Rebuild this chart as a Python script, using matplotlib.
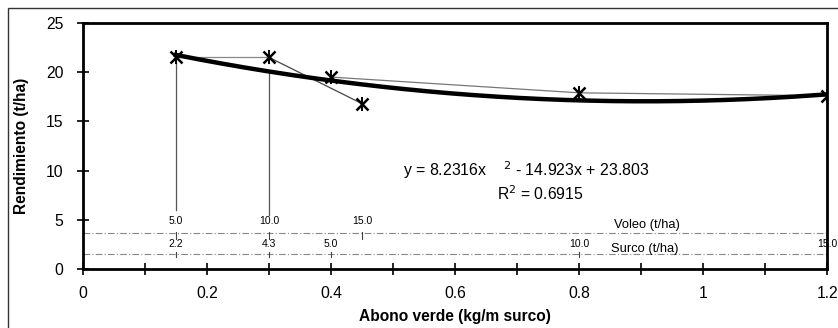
import numpy as np
import matplotlib
matplotlib.use("Agg")
import matplotlib.pyplot as plt
from matplotlib.patches import Rectangle

# data points
voleo_x = [0.15, 0.30, 0.45]
voleo_y = [21.5, 21.5, 16.8]
surco_x = [0.40, 0.80, 1.20]
surco_y = [19.5, 17.9, 17.6]

# fitted trend (from the equation shown on the chart)
coef = [8.2316, -14.923, 23.803]
r2 = 0.6915

# secondary scales drawn inside the plot
voleo_scale_x = [0.15, 0.30, 0.45]
voleo_scale_lab = ["5.0", "10.0", "15.0"]
surco_scale_x = [0.15, 0.30, 0.40, 0.80, 1.20]
surco_scale_lab = ["2.2", "4.3", "5.0", "10.0", "15.0"]
voleo_level = 3.7
surco_level = 1.5

plt.rcParams['font.family'] = ['Liberation Sans', 'DejaVu Sans']

fig = plt.figure(figsize=(8.38, 3.28), dpi=100)
ax = fig.add_axes([0.099, 0.180, 0.888, 0.750])

# outer frame of the figure (cut off at right and bottom)
fig.patches.append(Rectangle((8 / 838, -0.2), 1.2, 1.2 - 8 / 328,
                             transform=fig.transFigure, fill=False,
                             edgecolor='#333333', linewidth=1.0))

# vertical guide lines
ax.plot([0.15, 0.15], [6.0, 21.5], color='#555555', lw=0.9)
ax.plot([0.30, 0.30], [5.5, 20.0], color='#555555', lw=0.9)

# series
ax.plot([voleo_x[0], voleo_x[1]], [voleo_y[0], voleo_y[1]], color='#888888', lw=0.9)
ax.plot(voleo_x[1:], voleo_y[1:], color='#444444', lw=0.9)
ax.plot(surco_x, surco_y, color='#777777', lw=0.9)
pts_x = voleo_x + surco_x
pts_y = voleo_y + surco_y
ax.plot(pts_x, pts_y, linestyle='none', marker='x', markersize=8,
        markeredgewidth=1.8, color='black')
ax.plot(pts_x, pts_y, linestyle='none', marker='|', markersize=10,
        markeredgewidth=1.4, color='black')

# trend line
xs = np.linspace(0.15, 1.2, 200)
ax.plot(xs, np.polyval(coef, xs), color='black', lw=3.2)

# secondary scales
ax.axhline(voleo_level, color='#888888', lw=0.8, linestyle=(0, (6, 2, 1, 2)))
ax.axhline(surco_level, color='#888888', lw=0.8, linestyle=(0, (6, 2, 1, 2)))
for xv, lab in zip(voleo_scale_x, voleo_scale_lab):
    ax.plot([xv, xv], [voleo_level - 0.7, voleo_level + 0.1], color='#444444', lw=0.8)
    ax.text(xv, voleo_level + 0.7, lab, ha='center', va='bottom', fontsize=7.5)
for xv, lab in zip(surco_scale_x, surco_scale_lab):
    ax.plot([xv, xv], [surco_level - 0.25, surco_level + 0.25], color='#444444', lw=0.8)
    ax.text(xv, surco_level + 0.55, lab, ha='center', va='bottom', fontsize=7.5)
ax.text(0.909, voleo_level + 0.2, "Voleo (t/ha)", ha='center', va='bottom', fontsize=9.3)
ax.text(0.906, surco_level - 0.1, "Surco (t/ha)", ha='center', va='bottom', fontsize=9.3)

# equation text
ax.text(0.516, 10.0, "y = %.4fx    $^2$ - %.3fx + %.3f" % (coef[0], -coef[1], coef[2]),
        ha='left', va='center', fontsize=11.4)
ax.text(0.737, 7.7, "R$^2$ = %.4f" % r2, ha='center', va='center', fontsize=11.3)

ax.set_xlim(0, 1.2)
ax.set_ylim(0, 25)
ax.set_xticks(np.arange(0, 1.21, 0.2))
ax.set_xticklabels(["0", "0.2", "0.4", "0.6", "0.8", "1", "1.2"])
ax.set_xticks(np.arange(0.1, 1.2, 0.2), minor=True)
ax.set_yticks([0, 5, 10, 15, 20, 25])
ax.tick_params(axis='both', which='both', direction='inout', length=8, width=1.2,
               labelsize=11.3)
ax.tick_params(axis='x', pad=8)
ax.tick_params(axis='y', pad=10)
for s in ax.spines.values():
    s.set_linewidth(2)

ax.set_xlabel("Abono verde (kg/m surco)", fontsize=11.2, fontweight='bold', labelpad=6)
ax.set_ylabel("Rendimiento (t/ha)", fontsize=11.2, fontweight='bold', labelpad=12)

fig.savefig("out.png", dpi=100)
